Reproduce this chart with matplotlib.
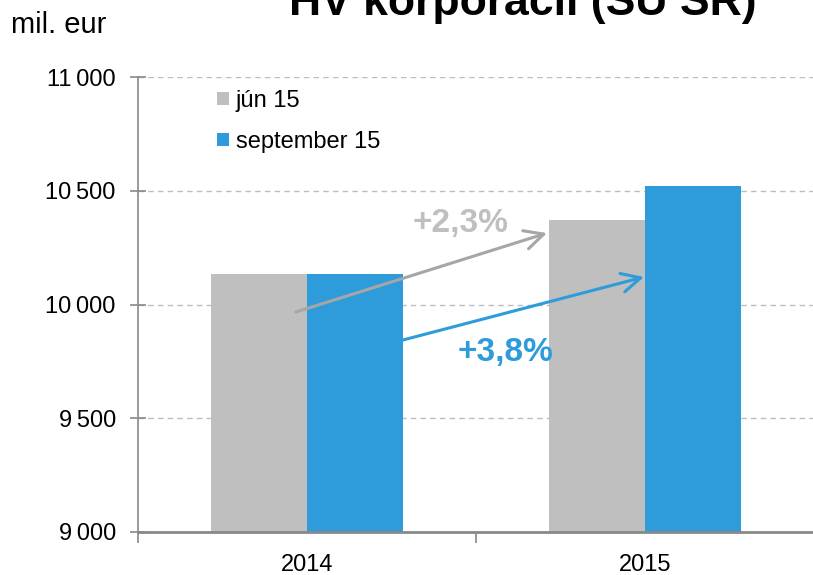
import matplotlib
matplotlib.use('Agg')
import matplotlib.pyplot as plt
from matplotlib.ticker import FuncFormatter, FixedLocator
import numpy as np

plt.rcParams['font.family'] = ['Liberation Sans', 'DejaVu Sans']

years = ['2014', '2015']
jun_15 = [10136, 10370]
sep_15 = [10136, 10521]
series_names = ['jún 15', 'september 15']
growth_labels = ['+2,3%', '+3,8%']

grey = '#bfbfbf'
blue = '#2e9bdb'

fig = plt.figure(figsize=(8.13, 5.75), dpi=100)
ax = fig.add_axes([138 / 813, 1 - 532 / 575, 676 / 813, 455 / 575])

x = np.arange(len(years))
w = 0.285
ax.bar(x - w / 2, jun_15, width=w, color=grey, label=series_names[0], zorder=2)
ax.bar(x + w / 2, sep_15, width=w, color=blue, label=series_names[1], zorder=2)

ax.set_ylim(9000, 11000)
ax.set_xlim(-0.5, 1.5)
ax.set_yticks([9000, 9500, 10000, 10500, 11000])
ax.yaxis.set_major_formatter(FuncFormatter(lambda v, p: f'{int(v):,}'.replace(',', '\u2009')))
ax.set_xticks(x)
ax.set_xticklabels(years)
ax.xaxis.set_minor_locator(FixedLocator([-0.5, 0.5, 1.5]))

ax.tick_params(axis='y', labelsize=17, direction='inout', length=12, width=1.2,
               color='#898989', pad=10)
ax.tick_params(axis='x', which='major', labelsize=17, length=0, pad=16)
ax.tick_params(axis='x', which='minor', direction='out', length=8, width=1.2, color='#898989')

ax.grid(axis='y', color='#bdbdbd', linestyle=(0, (4, 3)), linewidth=1)
ax.set_axisbelow(True)
for s in ['top', 'right']:
    ax.spines[s].set_visible(False)
ax.spines['left'].set_color('#898989')
ax.spines['left'].set_linewidth(1.2)
ax.spines['bottom'].set_color('#898989')
ax.spines['bottom'].set_linewidth(2)

ax.legend(loc='upper left', bbox_to_anchor=((217 - 138) / 676, (532 - 90) / 455),
          frameon=False, fontsize=17, handlelength=0.5, handleheight=0.5,
          handletextpad=0.3, labelspacing=0.8, borderpad=0, borderaxespad=0)

# growth arrows
ax.annotate('', xy=(0.710, 10314), xytext=(-0.033, 9967),
            arrowprops=dict(arrowstyle='->', color='#a6a6a6', lw=2.2,
                            mutation_scale=34, shrinkA=0, shrinkB=0), zorder=3)
ax.annotate('', xy=(0.997, 10121), xytext=(0.284, 9844),
            arrowprops=dict(arrowstyle='->', color=blue, lw=2.2,
                            mutation_scale=34, shrinkA=0, shrinkB=0), zorder=3)
ax.text(0.455, 10355, growth_labels[0], color=grey, fontsize=24, fontweight='bold',
        ha='center', va='center', zorder=4)
ax.text(0.586, 9787, growth_labels[1], color=blue, fontsize=24, fontweight='bold',
        ha='center', va='center', zorder=4)

fig.text(11 / 813, 1 - 33 / 575, 'mil. eur', fontsize=21, ha='left', va='baseline')
fig.text(523 / 813, 1 - 15 / 575, 'HV korporácií (SU SR)', fontsize=32,
         fontweight='bold', ha='center', va='baseline')

fig.savefig('out.png', dpi=100)
